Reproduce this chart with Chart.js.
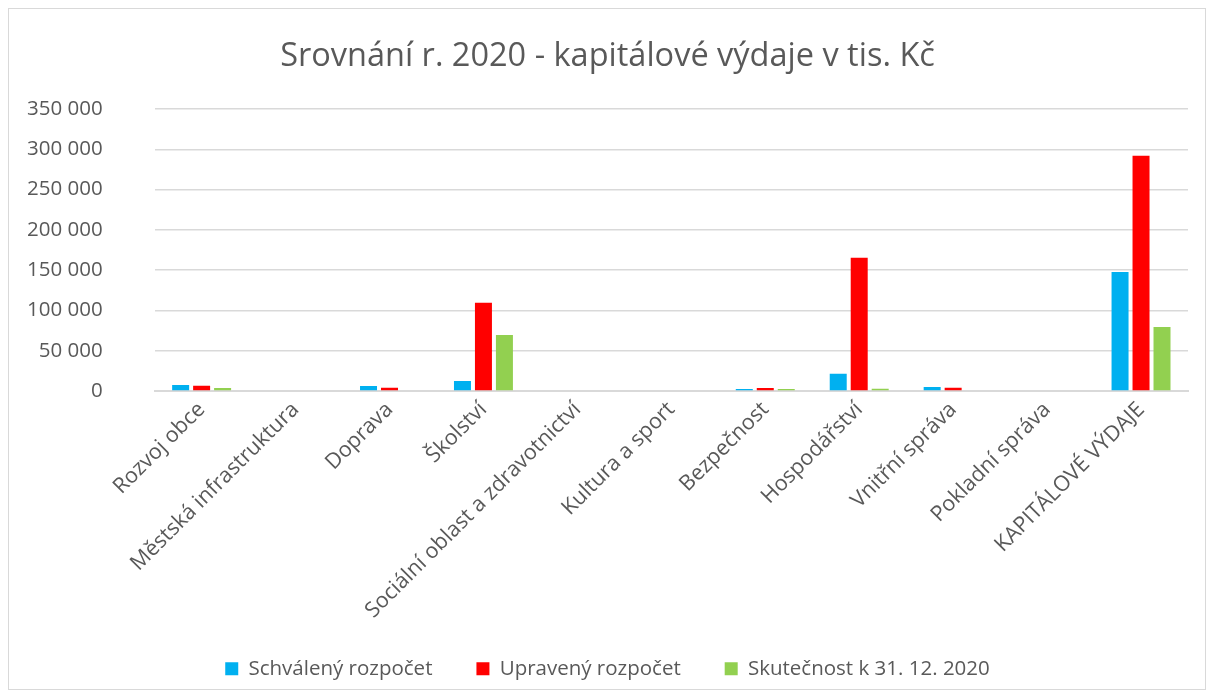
<!DOCTYPE html>
<html>
<head>
<meta charset="utf-8">
<script src="https://cdn.jsdelivr.net/npm/chart.js@4"></script>
<style>
  html, body { margin: 0; padding: 0; background: #fff; }
  #box { position: absolute; left: 8px; top: 8px; width: 1198px; height: 682px; border: 1px solid #d9d9d9; box-sizing: border-box; }
</style>
</head>
<body>
<div id="box"><canvas id="chart1"></canvas></div>
<script>
// kategorie
const kategorie = ['Rozvoj obce', 'Městská infrastruktura', 'Doprava', 'Školství',
  'Sociální oblast a zdravotnictví', 'Kultura a sport', 'Bezpečnost', 'Hospodářství',
  'Vnitřní správa', 'Pokladní správa', 'KAPITÁLOVÉ VÝDAJE'];

// hodnoty v tis. Kč
const schvaleny = [7400, 0, 6200, 12400, 0, 0, 2500, 21500, 5000, 0, 147600];
const upraveny = [6600, 0, 4100, 109500, 0, 0, 3700, 165400, 4100, 0, 292000];
const skutecnost = [3700, 0, 0, 69500, 0, 0, 2500, 2800, 0, 0, 79400];

const yTicks = [0, 50000, 100000, 150000, 200000, 250000, 300000, 350000];

const sedy = '#595959';
const pismo = '"Open Sans", sans-serif';
const odsazeniY = 52;

const canvas = document.getElementById('chart1');
canvas.width = 1196;
canvas.height = 680;

new Chart(canvas.getContext('2d'), {
  type: 'bar',
  data: {
    labels: kategorie,
    datasets: [
      { label: 'Schválený rozpočet', data: schvaleny, backgroundColor: '#00b0f0' },
      { label: 'Upravený rozpočet', data: upraveny, backgroundColor: '#ff0000' },
      { label: 'Skutečnost k 31. 12. 2020', data: skutecnost, backgroundColor: '#92d050' }
    ]
  },
  options: {
    responsive: false,
    animation: false,
    categoryPercentage: 0.67,
    barPercentage: 0.81,
    layout: { padding: { left: 18, right: 17, top: 16, bottom: 0 } },
    plugins: {
      title: {
        display: true,
        text: 'Srovnání r. 2020 - kapitálové výdaje v tis. Kč',
        color: sedy,
        font: { family: pismo, size: 32.5, weight: 'normal' },
        padding: { top: 12, bottom: 33 }
      },
      legend: {
        position: 'bottom',
        labels: {
          color: sedy,
          font: { family: pismo, size: 20.5 },
          boxWidth: 13,
          boxHeight: 13,
          padding: 44
        }
      },
      tooltip: { enabled: false }
    },
    scales: {
      x: {
        grid: { display: false, drawTicks: false },
        border: { color: '#d9d9d9', width: 2 },
        ticks: {
          color: sedy,
          font: { family: pismo, size: 21.5 },
          maxRotation: 45,
          minRotation: 45,
          padding: 6,
          autoSkip: false
        },
        // popisky první kategorie nemají posouvat osu y, dlouhé popisky se neořezávají
        afterFit: scale => {
          scale.paddingLeft = 0;
          scale.height -= 15;
          scale._computeLabelArea = () => null;
        }
      },
      y: {
        min: 0,
        max: 350000,
        afterBuildTicks: axis => { axis.ticks = yTicks.map(v => ({ value: v })); },
        afterFit: axis => { axis.width -= odsazeniY; },
        grid: { color: '#d9d9d9', lineWidth: 1.5, drawTicks: false },
        border: { display: false },
        ticks: {
          color: sedy,
          font: { family: pismo, size: 20.5 },
          padding: odsazeniY,
          callback: v => v.toLocaleString('cs-CZ').replace(/\s/g, ' ')
        }
      }
    }
  }
});
</script>
</body>
</html>
